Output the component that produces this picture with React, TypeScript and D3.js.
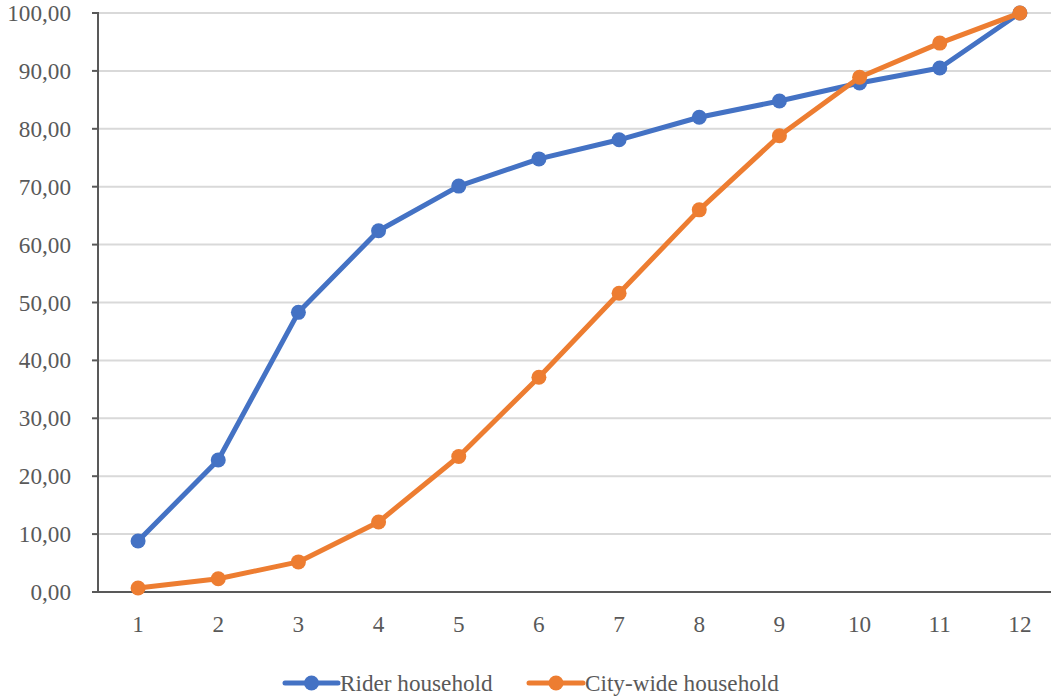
import React from "react";
import * as d3 from "d3";

const categories = ["1", "2", "3", "4", "5", "6", "7", "8", "9", "10", "11", "12"];
const riderHousehold = [8.8, 22.8, 48.3, 62.4, 70.1, 74.8, 78.1, 82.0, 84.8, 87.9, 90.5, 100.0];
const cityWideHousehold = [0.7, 2.3, 5.2, 12.1, 23.4, 37.1, 51.6, 66.0, 78.8, 88.9, 94.8, 100.0];
const yTicks = [0, 10, 20, 30, 40, 50, 60, 70, 80, 90, 100];
const seriesNames = ["Rider household", "City-wide household"];
const seriesColors = ["#4472C4", "#ED7D31"];

const W = 1051;
const H = 699;
const left = 98;
const top = 13;
const bottom = 592;
const right = 1060;

export default function App() {
  const x = d3.scaleBand<string>().domain(categories).range([left, right]).padding(0);
  const y = d3.scaleLinear().domain([0, 100]).range([bottom, top]);
  const cx = (c: string) => (x(c) as number) + x.bandwidth() / 2;
  const line = d3
    .line<number>()
    .x((_, i) => cx(categories[i]))
    .y((d) => y(d));
  const fmt = (v: number) => v.toFixed(2).replace(".", ",");
  const series = [riderHousehold, cityWideHousehold];
  const textStyle: React.CSSProperties = {
    fontFamily: '"Liberation Serif", "Times New Roman", serif',
    fontSize: "23.2px",
  };
  const textColor = "#595959";

  const legend = [
    { x0: 285, x1: 338, tx: 340 },
    { x0: 529, x1: 583, tx: 585 },
  ];

  return (
    <svg
      width={W}
      height={H}
      style={{ position: "absolute", left: 0, top: 0, background: "#fff" }}
    >
      {yTicks.map((t) => (
        <g key={t}>
          {t > 0 && (
            <line x1={left} x2={W} y1={y(t)} y2={y(t)} stroke="#d9d9d9" strokeWidth={2} />
          )}
          <line x1={left - 6} x2={left} y1={y(t)} y2={y(t)} stroke="#595959" strokeWidth={2} />
          <text x={71} y={y(t) + 8} textAnchor="end" style={textStyle} fill={textColor}>
            {fmt(t)}
          </text>
        </g>
      ))}
      <line x1={left} x2={left} y1={top - 1} y2={bottom} stroke="#595959" strokeWidth={2} />
      <line x1={left - 6} x2={W} y1={bottom} y2={bottom} stroke="#595959" strokeWidth={2} />
      {categories.map((c) => (
        <text key={c} x={cx(c)} y={632} textAnchor="middle" style={textStyle} fill={textColor}>
          {c}
        </text>
      ))}
      {series.map((s, si) => (
        <g key={si}>
          <path
            d={line(s) || ""}
            fill="none"
            stroke={seriesColors[si]}
            strokeWidth={5}
            strokeLinejoin="round"
            strokeLinecap="round"
          />
          {s.map((v, i) => (
            <circle key={i} cx={cx(categories[i])} cy={y(v)} r={7.5} fill={seriesColors[si]} />
          ))}
        </g>
      ))}
      {legend.map((l, i) => (
        <g key={i}>
          <line
            x1={l.x0}
            x2={l.x1}
            y1={683}
            y2={683}
            stroke={seriesColors[i]}
            strokeWidth={5}
            strokeLinecap="round"
          />
          <circle cx={(l.x0 + l.x1) / 2} cy={683} r={7.5} fill={seriesColors[i]} />
          <text x={l.tx} y={691} style={textStyle} fill={textColor}>
            {seriesNames[i]}
          </text>
        </g>
      ))}
    </svg>
  );
}
